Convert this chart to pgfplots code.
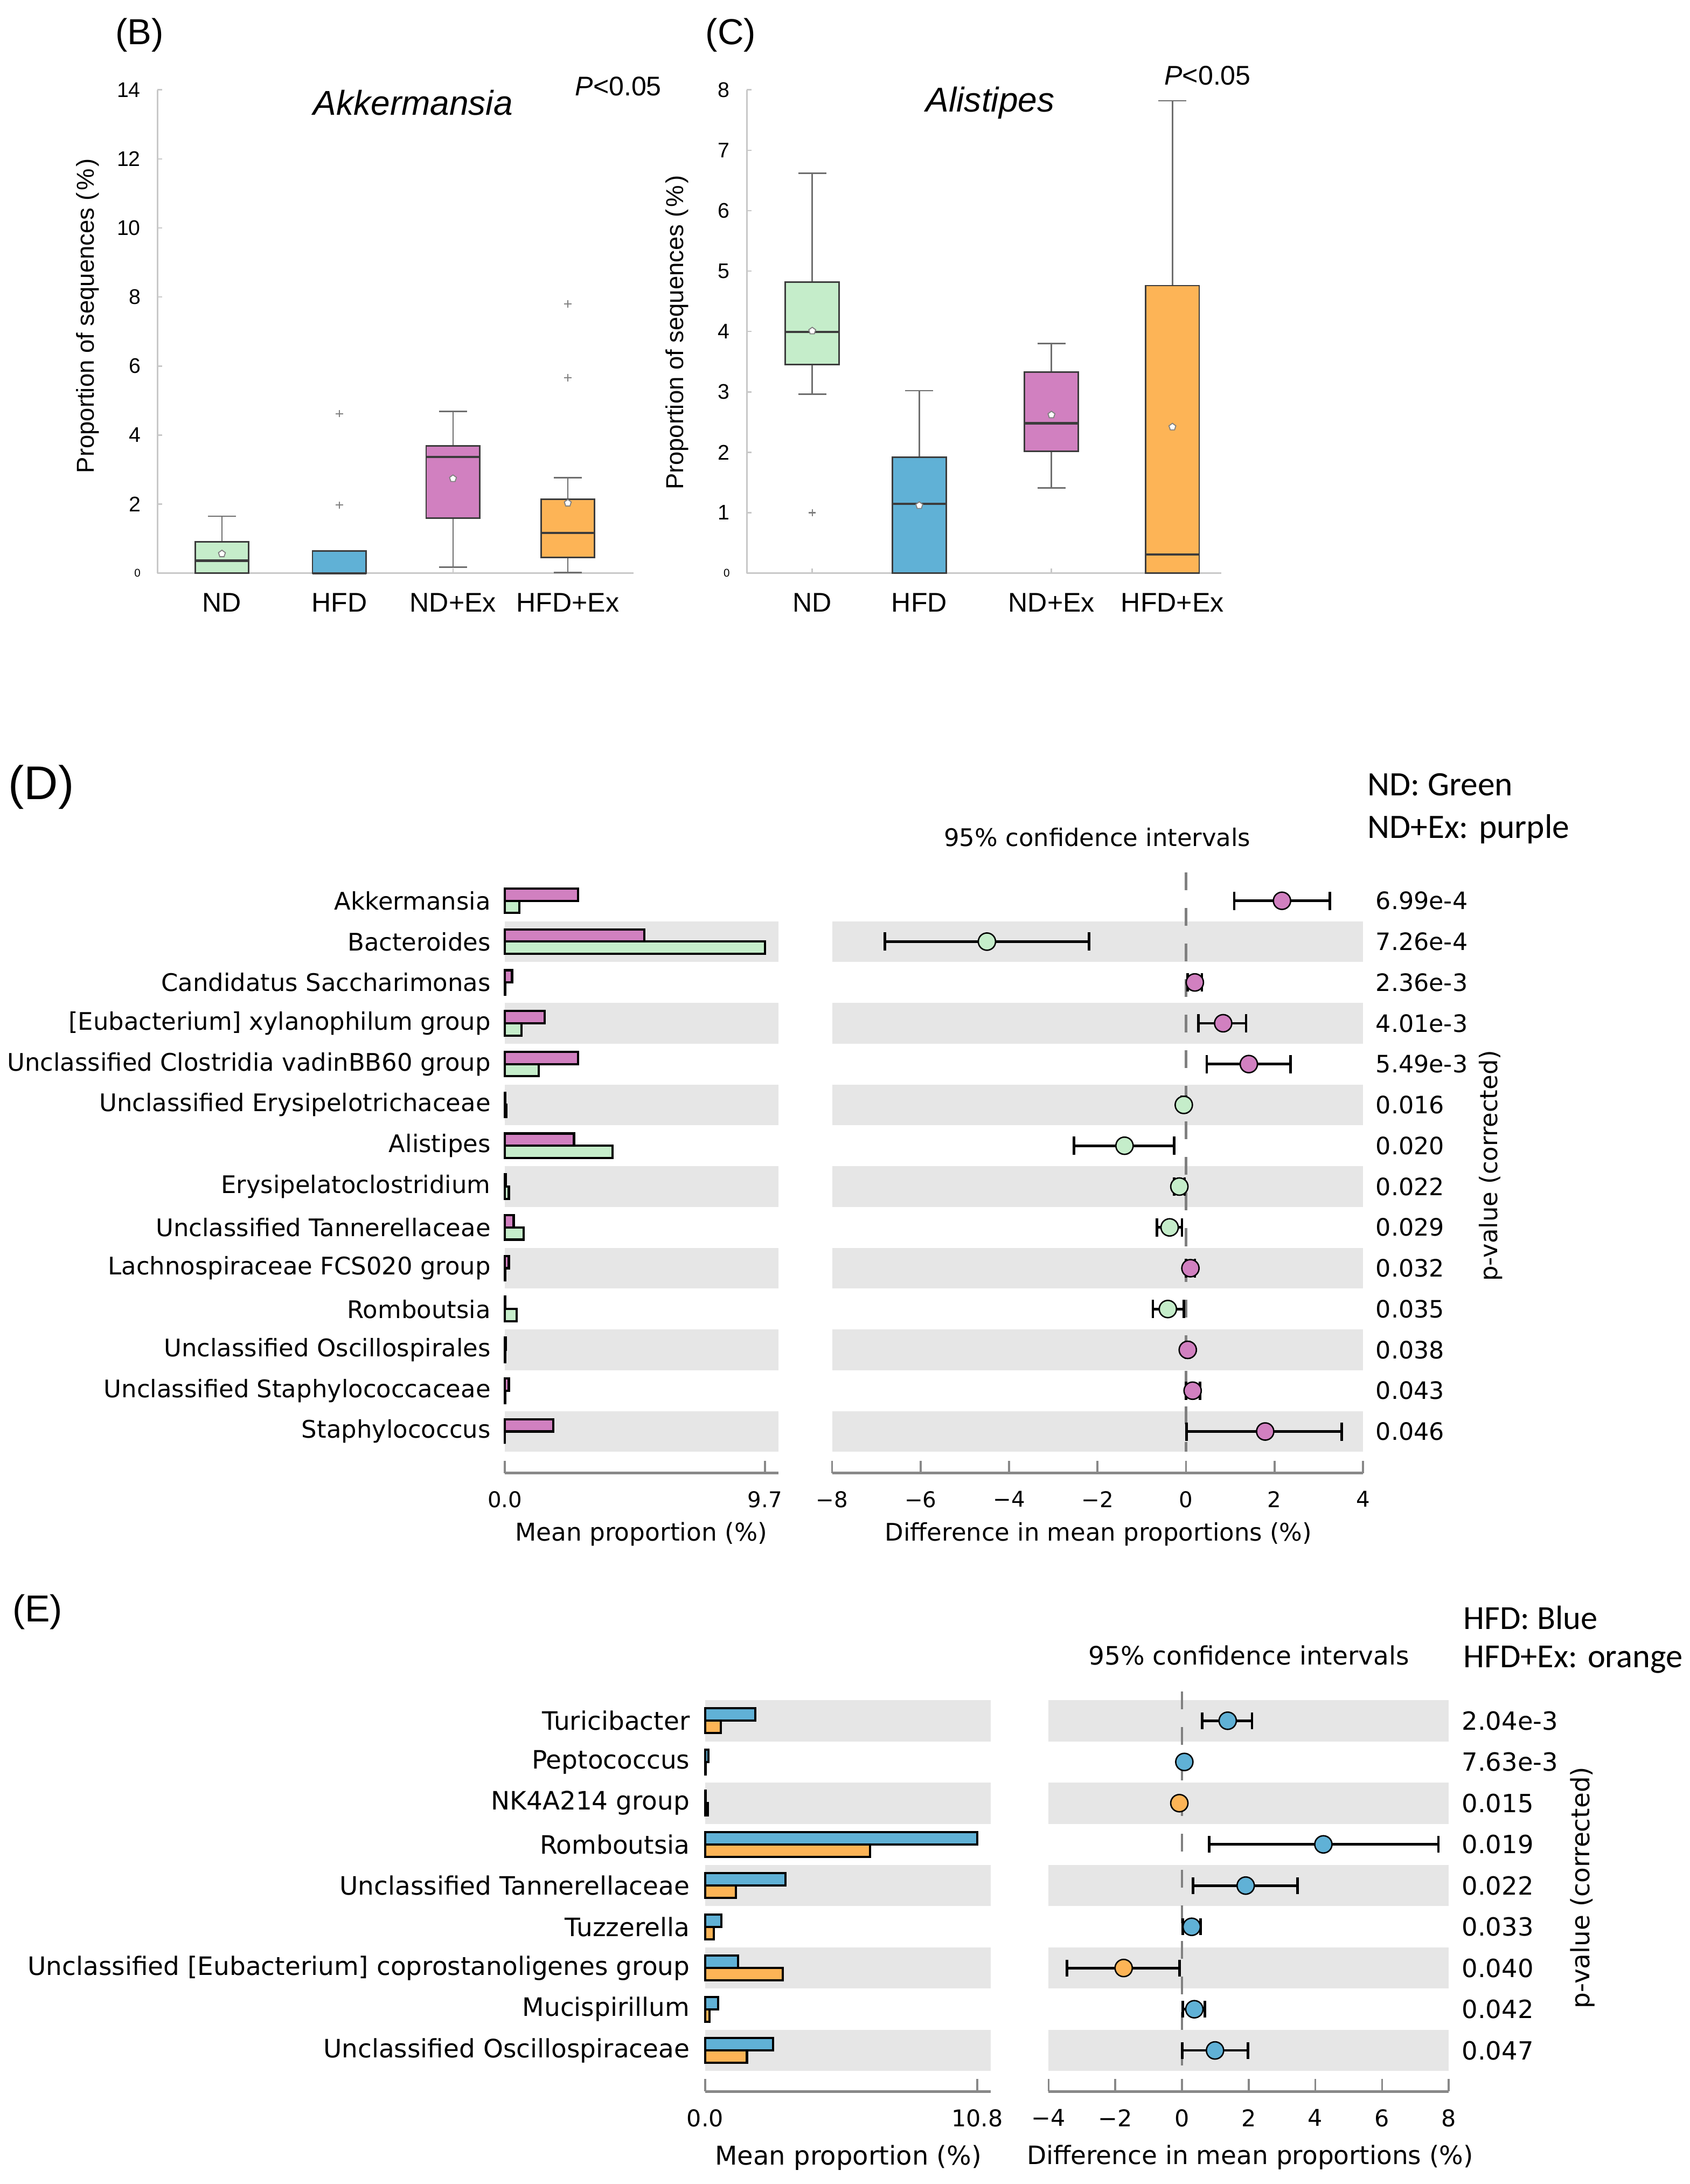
\documentclass[border=0pt]{standalone}
\usepackage{fontspec}
\setmainfont{Liberation Sans}
\newfontfamily\dejavu{DejaVu Sans}
\newfontfamily\carlito{Carlito}
\usepackage{pgfplots}
\pgfplotsset{compat=1.18}
\usepgfplotslibrary{statistics}

\definecolor{cgreen}{RGB}{197,237,202}
\definecolor{cpurple}{RGB}{209,128,192}
\definecolor{cblue}{RGB}{96,177,214}
\definecolor{corange}{RGB}{253,180,86}
\definecolor{bandgray}{RGB}{230,230,230}
\definecolor{axisgray}{RGB}{200,200,200}
\definecolor{spinegray}{RGB}{136,136,136}
\definecolor{boxedge}{RGB}{60,60,60}
\definecolor{whiskgray}{RGB}{110,110,110}

\newcommand\fs[1]{\fontsize{#1pt}{1.2\dimexpr#1pt\relax}\selectfont}

\tikzset{zerodash/.style={draw=gray, line width=0.8pt, dash pattern=on 6.4pt off 6.4pt}}

\pgfplotsset{
  boxax/.style={scale only axis, anchor=south west, clip=false,
    xmin=0, ymin=0, axis x line*=bottom, axis y line*=left,
    axis line style={draw=axisgray, line width=0.65pt, -},
    tick align=inside, major tick length=1.6pt,
    tick style={draw=axisgray, line width=0.5pt},
    xticklabel style={font=\fs{9.7}, yshift=-3.8pt},
    yticklabel style={font=\fs{7.6}, xshift=-2.6pt},
    boxplot/draw direction=y,
    boxplot/box extend=1, boxplot/whisker extend=0.52,
    boxplot/every whisker/.style={draw=whiskgray, line width=0.5pt},
    boxplot/every median/.style={draw=boxedge, line width=0.8pt},
    boxplot/every box/.style={draw=boxedge, line width=0.55pt}},
  box/.style={boxplot prepared={#1}, mark=+, mark size=1.3pt,
    mark options={draw=gray, line width=0.4pt}},
  meanmk/.style={only marks, mark=pentagon*, mark size=1.3pt,
    mark options={fill=white, draw=gray, line width=0.35pt}},
  stampax/.style={scale only axis, anchor=south west, clip=false,
    axis x line*=bottom,
    x axis line style={draw=spinegray, line width=0.95pt, -},
    y axis line style={draw=none},
    tick align=inside, major tick length=4.5pt,
    xtick style={draw=spinegray, line width=0.7pt},
    ytick style={draw=none}},
  errbar/.style={black, line width=0.9pt, mark=|, mark size=3.3pt,
    unbounded coords=jump},
  cimk/.style={only marks, mark=*, mark size=3.1pt,
    mark options={fill=#1, draw=black, line width=0.5pt}}
}

\begin{document}
\begin{tikzpicture}
\useasboundingbox (0,0) rectangle (607.5pt,785pt);

% ---------- (B) Akkermansia  (x in box widths)
\begin{axis}[boxax, at={(56.65pt,579pt)}, width=171.05pt, height=173.7pt,
  xmax=8.863, ymax=14,
  xtick={1.199,3.386,5.503,7.642}, xticklabels={ND,HFD,ND+Ex,HFD+Ex},
  ytick={0,2,...,14}, yticklabels={{\fs{4}0},2,4,6,8,10,12,14}]
\addplot[box={draw position=1.199, lower whisker=0, lower quartile=0,
  median=0.36, upper quartile=0.91, upper whisker=1.65}, fill=cgreen]
  coordinates {};
\addplot[box={draw position=3.386, lower whisker=0, lower quartile=0,
  median=0, upper quartile=0.64, upper whisker=0.64}, fill=cblue]
  coordinates {(3.386,4.62) (3.386,1.97)};
\addplot[box={draw position=5.503, lower whisker=0.17, lower quartile=1.59,
  median=3.37, upper quartile=3.69, upper whisker=4.68}, fill=cpurple]
  coordinates {};
\addplot[box={draw position=7.642, lower whisker=0.02, lower quartile=0.45,
  median=1.17, upper quartile=2.14, upper whisker=2.76}, fill=corange]
  coordinates {(7.642,7.80) (7.642,5.66)};
\addplot[meanmk] coordinates {(1.199,0.56) (5.503,2.74) (7.642,2.03)};
\end{axis}

% ---------- (C) Alistipes
\begin{axis}[boxax, at={(268.5pt,579pt)}, width=170.5pt, height=173.7pt,
  xmax=8.834, ymax=8,
  xtick={1.218,3.212,5.674,7.927}, xticklabels={ND,HFD,ND+Ex,HFD+Ex},
  ytick={0,1,...,8}, yticklabels={{\fs{4}0},1,2,3,4,5,6,7,8}]
\addplot[box={draw position=1.218, lower whisker=2.96, lower quartile=3.45,
  median=3.99, upper quartile=4.82, upper whisker=6.62}, fill=cgreen]
  coordinates {(1.218,1.00)};
\addplot[box={draw position=3.212, lower whisker=0, lower quartile=0,
  median=1.15, upper quartile=1.92, upper whisker=3.02}, fill=cblue]
  coordinates {};
\addplot[box={draw position=5.674, lower whisker=1.41, lower quartile=2.02,
  median=2.48, upper quartile=3.33, upper whisker=3.80}, fill=cpurple]
  coordinates {};
\addplot[box={draw position=7.927, lower whisker=0, lower quartile=0,
  median=0.31, upper quartile=4.76, upper whisker=7.82}, fill=corange]
  coordinates {};
\addplot[meanmk] coordinates {(1.218,4.01) (3.212,1.12) (5.674,2.62) (7.927,2.42)};
\end{axis}

% ---------- (D) mean proportions
\begin{axis}[stampax, at={(181.5pt,255.5pt)}, width=98.3pt, height=216pt,
  xmin=0, xmax=10.2, ymin=-1.02, ymax=13.7,
  xtick={0,9.7}, xticklabels={0.0,9.7},
  xticklabel style={font=\dejavu\fs{7.8}, yshift=-3pt},
  ytick={0,...,13},
  yticklabels={Staphylococcus, Unclassified Staphylococcaceae,
    Unclassified Oscillospirales, Romboutsia, Lachnospiraceae FCS020 group,
    Unclassified Tannerellaceae, Erysipelatoclostridium, Alistipes,
    Unclassified Erysipelotrichaceae, Unclassified Clostridia vadinBB60 group,
    {[Eubacterium] xylanophilum group}, Candidatus Saccharimonas,
    Bacteroides, Akkermansia},
  yticklabel style={font=\dejavu\fs{8.7}, xshift=-1.6pt}]
\fill[bandgray] (axis cs:0,11.5) rectangle (axis cs:10.2,12.5);
\fill[bandgray] (axis cs:0,9.5) rectangle (axis cs:10.2,10.5);
\fill[bandgray] (axis cs:0,7.5) rectangle (axis cs:10.2,8.5);
\fill[bandgray] (axis cs:0,5.5) rectangle (axis cs:10.2,6.5);
\fill[bandgray] (axis cs:0,3.5) rectangle (axis cs:10.2,4.5);
\fill[bandgray] (axis cs:0,1.5) rectangle (axis cs:10.2,2.5);
\fill[bandgray] (axis cs:0,-0.5) rectangle (axis cs:10.2,0.5);
\addplot[xbar, bar width=0.3, bar shift=0.15, fill=cpurple, draw=black, line width=0.8pt]
  coordinates {(2.74,13) (5.21,12) (0.27,11) (1.48,10) (2.74,9) (0.02,8) (2.58,7)
    (0.03,6) (0.33,5) (0.15,4) (0.02,3) (0.03,2) (0.15,1) (1.81,0)};
\addplot[xbar, bar width=0.3, bar shift=-0.15, fill=cgreen, draw=black, line width=0.8pt]
  coordinates {(0.54,13) (9.70,12) (0.02,11) (0.62,10) (1.27,9) (0.06,8) (4.01,7)
    (0.15,6) (0.71,5) (0.02,4) (0.44,3) (0.02,2) (0.01,1) (0.00,0)};
\end{axis}

% ---------- (D) confidence intervals
\begin{axis}[stampax, at={(299.15pt,255.5pt)}, width=190.85pt, height=216pt,
  xmin=-8, xmax=4, ymin=-1.02, ymax=13.7,
  xtick={-8,-6,...,4}, xticklabels={−8,−6,−4,−2,0,2,4},
  xticklabel style={font=\dejavu\fs{7.8}, yshift=-3pt},
  ytick={0,...,13}, yticklabel pos=right,
  yticklabels={0.046,0.043,0.038,0.035,0.032,0.029,0.022,0.020,0.016,
    5.49e-3,4.01e-3,2.36e-3,7.26e-4,6.99e-4},
  yticklabel style={font=\dejavu\fs{8.6}, xshift=1.1pt}]
\fill[bandgray] (axis cs:-8,11.5) rectangle (axis cs:4,12.5);
\fill[bandgray] (axis cs:-8,9.5) rectangle (axis cs:4,10.5);
\fill[bandgray] (axis cs:-8,7.5) rectangle (axis cs:4,8.5);
\fill[bandgray] (axis cs:-8,5.5) rectangle (axis cs:4,6.5);
\fill[bandgray] (axis cs:-8,3.5) rectangle (axis cs:4,4.5);
\fill[bandgray] (axis cs:-8,1.5) rectangle (axis cs:4,2.5);
\fill[bandgray] (axis cs:-8,-0.5) rectangle (axis cs:4,0.5);
\draw[zerodash] (axis cs:0,13.7) -- (axis cs:0,-0.5);
\addplot[errbar] coordinates {
  (1.09,13) (3.25,13) (nan,nan) (-6.81,12) (-2.19,12) (nan,nan)
  (0.04,11) (0.36,11) (nan,nan) (0.28,10) (1.36,10) (nan,nan)
  (0.47,9) (2.36,9) (nan,nan) (-0.10,8) (0.00,8) (nan,nan)
  (-2.53,7) (-0.27,7) (nan,nan) (-0.27,6) (-0.03,6) (nan,nan)
  (-0.66,5) (-0.09,5) (nan,nan) (0.00,4) (0.20,4) (nan,nan)
  (-0.75,3) (-0.05,3) (nan,nan) (0.00,2) (0.08,2) (nan,nan)
  (0.00,1) (0.32,1) (nan,nan) (0.01,0) (3.52,0)};
\addplot[cimk=cpurple] coordinates {(2.17,13) (0.20,11) (0.84,10) (1.42,9)
  (0.10,4) (0.04,2) (0.15,1) (1.79,0)};
\addplot[cimk=cgreen] coordinates {(-4.50,12) (-0.05,8) (-1.39,7) (-0.15,6)
  (-0.37,5) (-0.41,3)};
\end{axis}

% ---------- (E) mean proportions
\begin{axis}[stampax, at={(253.5pt,33.25pt)}, width=102.7pt, height=143.75pt,
  xmin=0, xmax=11.34, ymin=-0.996, ymax=8.709,
  xtick={0,10.8}, xticklabels={0.0,10.8},
  xticklabel style={font=\dejavu\fs{8.3}, yshift=-2.9pt},
  ytick={0,...,8},
  yticklabels={Unclassified Oscillospiraceae, Mucispirillum,
    {Unclassified [Eubacterium] coprostanoligenes group}, Tuzzerella,
    Unclassified Tannerellaceae, Romboutsia, NK4A214 group, Peptococcus,
    Turicibacter},
  yticklabel style={font=\dejavu\fs{9.1}, xshift=-2pt}]
\fill[bandgray] (axis cs:0,7.5) rectangle (axis cs:11.34,8.5);
\fill[bandgray] (axis cs:0,5.5) rectangle (axis cs:11.34,6.5);
\fill[bandgray] (axis cs:0,3.5) rectangle (axis cs:11.34,4.5);
\fill[bandgray] (axis cs:0,1.5) rectangle (axis cs:11.34,2.5);
\fill[bandgray] (axis cs:0,-0.5) rectangle (axis cs:11.34,0.5);
\addplot[xbar, bar width=0.3, bar shift=0.15, fill=cblue, draw=black, line width=0.8pt]
  coordinates {(1.99,8) (0.13,7) (0.02,6) (10.80,5) (3.19,4) (0.65,3) (1.30,2)
    (0.52,1) (2.69,0)};
\addplot[xbar, bar width=0.3, bar shift=-0.15, fill=corange, draw=black, line width=0.8pt]
  coordinates {(0.62,8) (0.02,7) (0.10,6) (6.55,5) (1.22,4) (0.34,3) (3.08,2)
    (0.18,1) (1.66,0)};
\end{axis}

% ---------- (E) confidence intervals
\begin{axis}[stampax, at={(377pt,33.25pt)}, width=143.85pt, height=143.75pt,
  xmin=-4, xmax=8, ymin=-0.996, ymax=8.709,
  xtick={-4,-2,...,8}, xticklabels={−4,−2,0,2,4,6,8},
  xticklabel style={font=\dejavu\fs{8.3}, yshift=-2.9pt},
  ytick={0,...,8}, yticklabel pos=right,
  yticklabels={0.047,0.042,0.040,0.033,0.022,0.019,0.015,7.63e-3,2.04e-3},
  yticklabel style={font=\dejavu\fs{9.0}, xshift=1.2pt}]
\fill[bandgray] (axis cs:-4,7.5) rectangle (axis cs:8,8.5);
\fill[bandgray] (axis cs:-4,5.5) rectangle (axis cs:8,6.5);
\fill[bandgray] (axis cs:-4,3.5) rectangle (axis cs:8,4.5);
\fill[bandgray] (axis cs:-4,1.5) rectangle (axis cs:8,2.5);
\fill[bandgray] (axis cs:-4,-0.5) rectangle (axis cs:8,0.5);
\draw[zerodash] (axis cs:0,8.709) -- (axis cs:0,-0.5);
\addplot[errbar, mark size=3pt] coordinates {
  (0.61,8) (2.10,8) (nan,nan) (0.02,7) (0.12,7) (nan,nan)
  (-0.12,6) (-0.04,6) (nan,nan) (0.82,5) (7.69,5) (nan,nan)
  (0.33,4) (3.46,4) (nan,nan) (0.02,3) (0.56,3) (nan,nan)
  (-3.45,2) (-0.07,2) (nan,nan) (0.02,1) (0.69,1) (nan,nan)
  (0.01,0) (1.98,0)};
\addplot[cimk=cblue] coordinates {(1.37,8) (0.07,7) (4.24,5) (1.91,4) (0.29,3)
  (0.37,1) (0.99,0)};
\addplot[cimk=corange] coordinates {(-0.08,6) (-1.75,2)};
\end{axis}

% ---------- free text, in reference pixel units (y downward)
\begin{scope}[x=0.5pt, y=-0.5pt, shift={(0pt,785pt)}, every node/.style={inner sep=0pt}]
\node[font=\fs{13}] at (100.3,25.2) {(B)};
\node[font=\fs{13}] at (525.4,25.2) {(C)};
\node[font=\fs{12.4}\itshape] at (297,74) {Akkermansia};
\node[font=\fs{12.4}\itshape] at (712,74) {Alistipes};
\node[font=\fs{9.7}] at (444.6,62.2) {\textit{P}<0.05};
\node[font=\fs{9.7}] at (868.3,54.2) {\textit{P}<0.05};
\node[font=\fs{8.8}, rotate=90] at (63,227) {Proportion of sequences (\kern0.8pt\%\kern0.8pt)};
\node[font=\fs{8.8}, rotate=90] at (487,239) {Proportion of sequences (\kern0.8pt\%\kern0.8pt)};

\node[font=\fs{17}] at (29.6,565.9) {(D)};
\node[font=\dejavu\fs{8.7}] at (789,602) {95\% confidence intervals};
\node[font=\carlito\fs{12.3}, anchor=west] at (983,564) {ND: Green};
\node[font=\carlito\fs{12.3}, anchor=west] at (983,596) {ND+Ex: purple};
\node[font=\dejavu\fs{8.7}, rotate=90] at (1072,838) {p-value (corrected)};
\node[font=\dejavu\fs{8.8}] at (461,1103) {Mean proportion (\%)};
\node[font=\dejavu\fs{8.7}] at (789.8,1103) {Difference in mean proportions (\%)};

\node[font=\fs{13.5}] at (27,1158.8) {(E)};
\node[font=\dejavu\fs{9.1}] at (898,1190) {95\% confidence intervals};
\node[font=\carlito\fs{12.1}, anchor=west] at (1052,1163) {HFD: Blue};
\node[font=\carlito\fs{12.1}, anchor=west] at (1052,1193) {HFD+Ex: orange};
\node[font=\dejavu\fs{9.1}, rotate=90] at (1138,1357) {p-value (corrected)};
\node[font=\dejavu\fs{9.3}] at (610,1551) {Mean proportion (\%)};
\node[font=\dejavu\fs{9.1}] at (898.8,1551) {Difference in mean proportions (\%)};
\end{scope}
\end{tikzpicture}
\end{document}
